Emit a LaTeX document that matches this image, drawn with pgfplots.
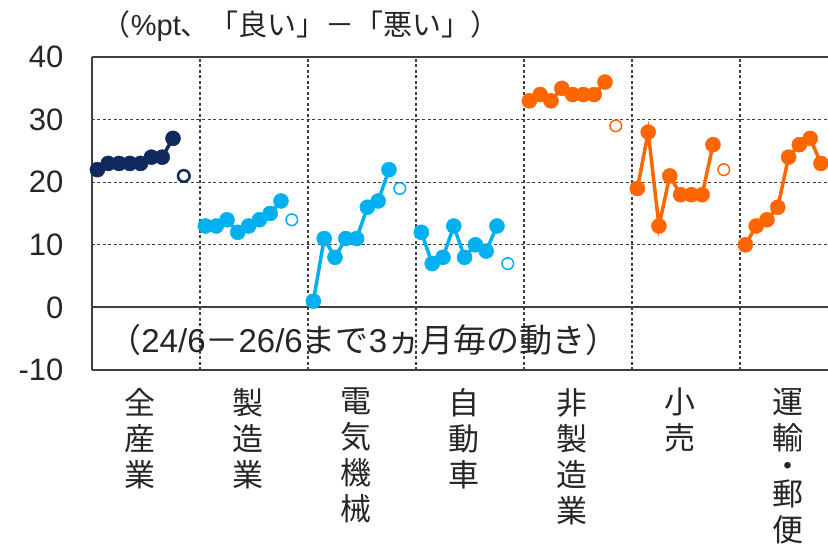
\documentclass[border=0pt]{standalone}
\usepackage{pgfplots}
\pgfplotsset{compat=1.18}
\usepackage{fontspec}
\setmainfont{Liberation Sans}
\newfontfamily\jp{Noto Sans CJK JP}
\definecolor{navy}{RGB}{16,42,96}
\definecolor{lblue}{RGB}{0,176,240}
\definecolor{orng}{RGB}{255,102,0}
\definecolor{axgray}{RGB}{64,64,64}
\definecolor{txt}{RGB}{38,38,38}
\begin{document}
\begin{tikzpicture}
\path[use as bounding box] (-92bp,-174bp) rectangle (736bp,370bp);
\begin{axis}[
 at={(0,0)}, anchor=south west,
 scale only axis, width=736bp, height=313bp,
 xmin=0, xmax=68.15, ymin=-10, ymax=40,
 clip mode=individual,
 axis line style={draw=none},
 ytick={-10,0,10,20,30,40}, yticklabels={-10,0,10,20,30,40},
 xtick={10,20,30,40,50,60}, xticklabels={},
 major tick length=0,
 grid=major,
 major grid style={dash pattern=on 3bp off 2.5bp, axgray, line width=1.1bp},
 yticklabel style={font=\fontsize{31bp}{31bp}\selectfont, text=txt, xshift=-25bp},
 every axis plot/.append style={line width=3.5bp},
]
% frame lines
\draw[axgray, line width=2bp] (axis cs:0,40) -- (axis cs:68.15,40);
\draw[axgray, line width=2bp] (axis cs:0,-10) -- (axis cs:68.15,-10);
\draw[axgray, line width=2bp] (axis cs:0,0) -- (axis cs:68.15,0);
\draw[axgray, line width=2bp] (axis cs:0,-10) -- (axis cs:0,40);

% 全産業
\addplot[navy, mark=*, mark size=7.5bp, mark options={line width=0.5bp}] coordinates {(0.5,22)(1.5,23)(2.5,23)(3.5,23)(4.5,23)(5.5,24)(6.5,24)(7.5,27)};
\addplot[navy, only marks, mark=o, mark size=5.8bp, mark options={line width=2.5bp, fill=white}] coordinates {(8.5,21)};
% 製造業
\addplot[lblue, mark=*, mark size=7.5bp, mark options={line width=0.5bp}] coordinates {(10.5,13)(11.5,13)(12.5,14)(13.5,12)(14.5,13)(15.5,14)(16.5,15)(17.5,17)};
\addplot[lblue, only marks, mark=o, mark size=5.8bp, mark options={line width=1.5bp, fill=white}] coordinates {(18.5,14)};
% 電気機械
\addplot[lblue, mark=*, mark size=7.5bp, mark options={line width=0.5bp}] coordinates {(20.5,1)(21.5,11)(22.5,8)(23.5,11)(24.5,11)(25.5,16)(26.5,17)(27.5,22)};
\addplot[lblue, only marks, mark=o, mark size=5.8bp, mark options={line width=1.5bp, fill=white}] coordinates {(28.5,19)};
% 自動車
\addplot[lblue, mark=*, mark size=7.5bp, mark options={line width=0.5bp}] coordinates {(30.5,12)(31.5,7)(32.5,8)(33.5,13)(34.5,8)(35.5,10)(36.5,9)(37.5,13)};
\addplot[lblue, only marks, mark=o, mark size=5.8bp, mark options={line width=1.5bp, fill=white}] coordinates {(38.5,7)};
% 非製造業
\addplot[orng, mark=*, mark size=7.5bp, mark options={line width=0.5bp}] coordinates {(40.5,33)(41.5,34)(42.5,33)(43.5,35)(44.5,34)(45.5,34)(46.5,34)(47.5,36)};
\addplot[orng, only marks, mark=o, mark size=5.8bp, mark options={line width=1.5bp, fill=white}] coordinates {(48.5,29)};
% 小売
\addplot[orng, mark=*, mark size=7.5bp, mark options={line width=0.5bp}] coordinates {(50.5,19)(51.5,28)(52.5,13)(53.5,21)(54.5,18)(55.5,18)(56.5,18)(57.5,26)};
\addplot[orng, only marks, mark=o, mark size=5.8bp, mark options={line width=1.5bp, fill=white}] coordinates {(58.5,22)};
% 運輸・郵便
\addplot[orng, mark=*, mark size=7.5bp, mark options={line width=0.5bp}] coordinates {(60.5,10)(61.5,13)(62.5,14)(63.5,16)(64.5,24)(65.5,26)(66.5,27)(67.5,23)};
\addplot[orng, only marks, mark=o, mark size=5.8bp, mark options={line width=1.5bp, fill=white}] coordinates {(68.5,18)};

% texts
\node[text=txt, font=\fontsize{29bp}{29bp}\selectfont, anchor=base west, inner sep=0pt] at (axis cs:0.9,43.5) {{\jp （}\%pt{\jp 、「良い」－「悪い」）}};
\node[text=txt, font=\fontsize{33bp}{33bp}\selectfont, anchor=base west, inner sep=0pt] at (axis cs:1.5,-7.2) {{\jp （}24/6{\jp －}26/6{\jp まで}3{\jp ヵ月毎の動き）}};

\begin{scope}[every node/.style={text=txt, font=\jp\fontsize{31bp}{36bp}\selectfont, anchor=north, align=center, inner sep=0pt, yshift=-18bp, xshift=-6bp}]
\node at (axis cs:5,-10) {全\\産\\業};
\node at (axis cs:15,-10) {製\\造\\業};
\node at (axis cs:25,-10) {電\\気\\機\\械};
\node at (axis cs:35,-10) {自\\動\\車};
\node at (axis cs:45,-10) {非\\製\\造\\業};
\node at (axis cs:55,-10) {小\\売};
\node at (axis cs:65,-10) {運\\輸\\[-8bp]・\\[-8bp]郵\\便};
\end{scope}
\end{axis}
\end{tikzpicture}
\end{document}
